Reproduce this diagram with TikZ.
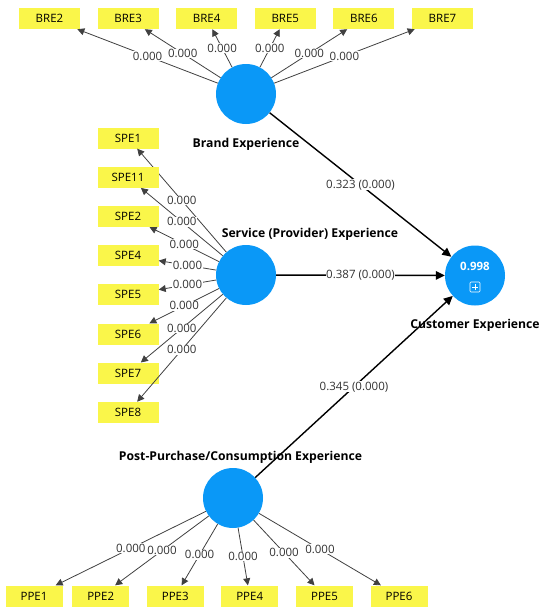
\documentclass[tikz,border=0pt]{standalone}
\usepackage{fontspec}
\setmainfont{Open Sans}
\usetikzlibrary{arrows.meta}
\definecolor{PlsBlue}{HTML}{0A98F7}
\definecolor{PlsYellow}{HTML}{FAF64A}
\definecolor{PlsLine}{HTML}{404040}
\definecolor{PlsText}{HTML}{333333}

\tikzset{
  indbox/.style={fill=PlsYellow, minimum width=61pt, minimum height=21pt, inner sep=0pt, font=\fontsize{11.5}{13}\selectfont},
  latent/.style={circle, fill=PlsBlue, minimum size=60pt, inner sep=0pt},
  latlab/.style={font=\bfseries\fontsize{12.2}{14}\selectfont},
  loading/.style={draw=PlsLine, line width=0.8pt, -{Triangle[length=7pt,width=7pt]}},
  structural/.style={draw=black, line width=1.4pt, -{Triangle[length=9pt,width=8.5pt]}},
  loadlab/.style={fill=white, inner sep=0.6pt, text=PlsText, font=\fontsize{11.5}{13}\selectfont},
}

\begin{document}
\begin{tikzpicture}[x=1pt,y=-1pt]
    \useasboundingbox (0,0) rectangle (550,616);

    % latent variables
    \node[latent] (brand) at (246,94) {};
    \node[latlab] (brandlab) at (246,144) {Brand Experience};
    \node[latent] (service) at (246,275) {};
    \node[latlab] (servicelab) at (310,234) {Service (Provider) Experience};
    \node[latent] (post) at (233,498) {};
    \node[latlab] (postlab) at (240.5,457) {Post-Purchase/Consumption Experience};
    \node[latent] (cx) at (475,275.5) {};
    \node[latlab] (cxlab) at (475,325) {Customer Experience};
    \node[text=white, font=\bfseries\fontsize{11.5}{13}\selectfont] (cxr2) at (475,266) {0.998};
    \node[draw=white, line width=0.6pt, minimum size=10pt, inner sep=0pt, rounded corners=1pt,
      path picture={\draw[white, line width=0.6pt]
        ([xshift=-3pt]path picture bounding box.center) -- ([xshift=3pt]path picture bounding box.center)
        ([yshift=-3pt]path picture bounding box.center) -- ([yshift=3pt]path picture bounding box.center);}]
      (cxplus) at (475,287) {};

    % brand indicators
    \foreach \i [count=\k from 0] in {2,...,7} {
      \node[indbox] (bre\i) at ({49.5+78.6*\k},18.5) {BRE\i};
      \draw[loading] (brand) -- node[loadlab] {0.000} (bre\i);
    }

    % service indicators
    \foreach \i [count=\k from 0] in {1,11,2,4,5,6,7,8} {
      \node[indbox] (spe\i) at (128,{138+39.2*\k}) {SPE\i};
      \draw[loading] (service) -- node[loadlab] {0.000} (spe\i);
    }

    % post-purchase indicators
    \foreach \x/\i in {34/1,100.7/2,175.3/3,249.7/4,324.5/5,399/6} {
      \node[indbox, minimum width=57pt] (ppe\i) at (\x,596) {PPE\i};
      \draw[loading] (post) -- node[loadlab] {0.000} (ppe\i);
    }

    % structural paths
    \draw[structural] (brand) -- node[loadlab] {0.323 (0.000)} (cx);
    \draw[structural] (service) -- node[loadlab] {0.387 (0.000)} (cx);
    \draw[structural] (post) -- node[loadlab] {0.345 (0.000)} (cx);
  \end{tikzpicture}
\end{document}
